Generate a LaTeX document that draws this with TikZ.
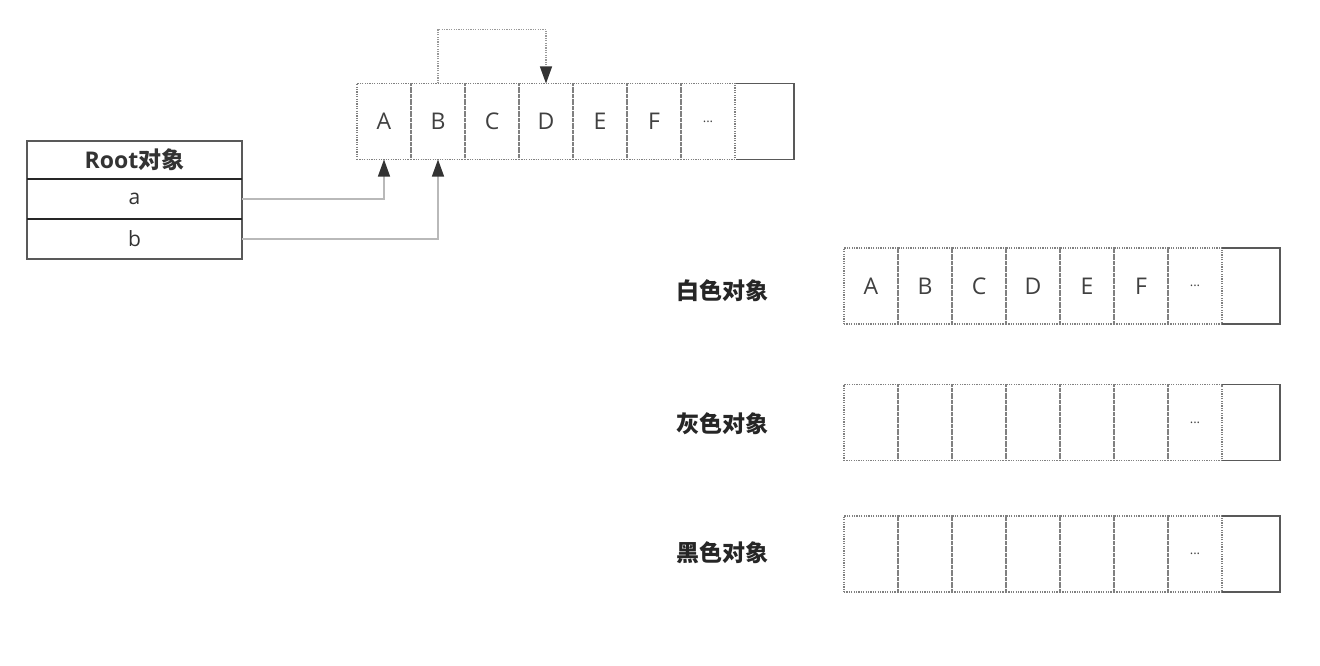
\documentclass[tikz,border=0pt]{standalone}
\usepackage{fontspec}
\setmainfont{Open Sans}
\newfontfamily\cjk{Noto Sans CJK SC}
\usetikzlibrary{arrows.meta,positioning}

\newcommand\more{{\fontsize{13}{15}\selectfont...}}

\tikzset{
  cell/.style={minimum width=54pt,minimum height=76pt,inner sep=0pt,outer sep=0pt,
    draw=black!50,dash pattern=on 1.2pt off 1.2pt,line width=1.3pt,
    font=\fontsize{23}{26}\selectfont,text=black!75},
  lastcell/.style={minimum width=58pt,minimum height=76pt,inner sep=0pt,outer sep=0pt},
  frame/.style={draw=gray!70!black,line width=1.4pt},
  rootrow/.style={minimum width=215pt,minimum height=40pt,inner sep=0pt,outer sep=0pt,
    draw=gray!70!black,line width=1.2pt,font=\fontsize{21}{24}\selectfont,text=black!80},
  tag/.style={font=\cjk\bfseries\fontsize{23}{26}\selectfont,text=black!85},
  link/.style={draw=gray!55,line width=1.2pt,-{Triangle[length=17pt,width=12pt,color=black!80]}},
  loop/.style={draw=black!40,line width=1.3pt,dash pattern=on 1.2pt off 1.2pt,
    -{Triangle[length=17pt,width=12pt,color=black!80]}},
}

\begin{document}
\begin{tikzpicture}[x=1pt,y=-1pt]
\useasboundingbox (0,0) rectangle (1320,666);

% root object
\node[rootrow,minimum height=38pt,font=\fontsize{23}{26}\selectfont] (rt) at (134.5,160) {\bfseries Root{\cjk\bfseries 对象}};
\node[rootrow] (ra) at (134.5,199) {a};
\node[rootrow] (rb) at (134.5,239) {b};
\draw[line width=2pt,draw=gray!30!black] (rt.south west) -- (rt.south east);
\draw[line width=2pt,draw=gray!30!black] (ra.south west) -- (ra.south east);

% heap
\foreach \l [count=\i] in {A,B,C,D,E,F,\more}
  \node[cell] (t\i) at (330+54*\i,121.5) {\l};
\node[lastcell] (t8) at (765,121.5) {};
\draw[frame] (t8.north west) -- (t8.north east) -- (t8.south east) -- (t8.south west);

\draw[link] (ra.east) -| (t1.south);
\draw[link] (rb.east) -| (t2.south);
\draw[loop] (t2.north) -- ++(0,-54) -| (t4.north);

% white objects
\node[tag] (wt) at (722,291) {白色对象};
\foreach \l [count=\i] in {A,B,C,D,E,F,\more}
  \node[cell] (w\i) at (817+54*\i,286) {\l};
\node[lastcell] (w8) at (1251,286) {};
\draw[frame] (w8.north west) -- (w8.north east) -- (w8.south east) -- (w8.south west);

% grey objects
\node[tag] (gt) at (722,424) {灰色对象};
\foreach \i in {1,...,6}
  \node[cell] (g\i) at (817+54*\i,422.5) {};
\node[cell] (g7) at (1195,422.5) {\more};
\node[lastcell] (g8) at (1251,422.5) {};
\draw[frame] (g8.north west) -- (g8.north east) -- (g8.south east) -- (g8.south west);

% black objects
\node[tag] (kt) at (722,553) {黑色对象};
\foreach \i in {1,...,6}
  \node[cell] (k\i) at (817+54*\i,554) {};
\node[cell] (k7) at (1195,554) {\more};
\node[lastcell] (k8) at (1251,554) {};
\draw[frame] (k8.north west) -- (k8.north east) -- (k8.south east) -- (k8.south west);
\end{tikzpicture}
\end{document}
